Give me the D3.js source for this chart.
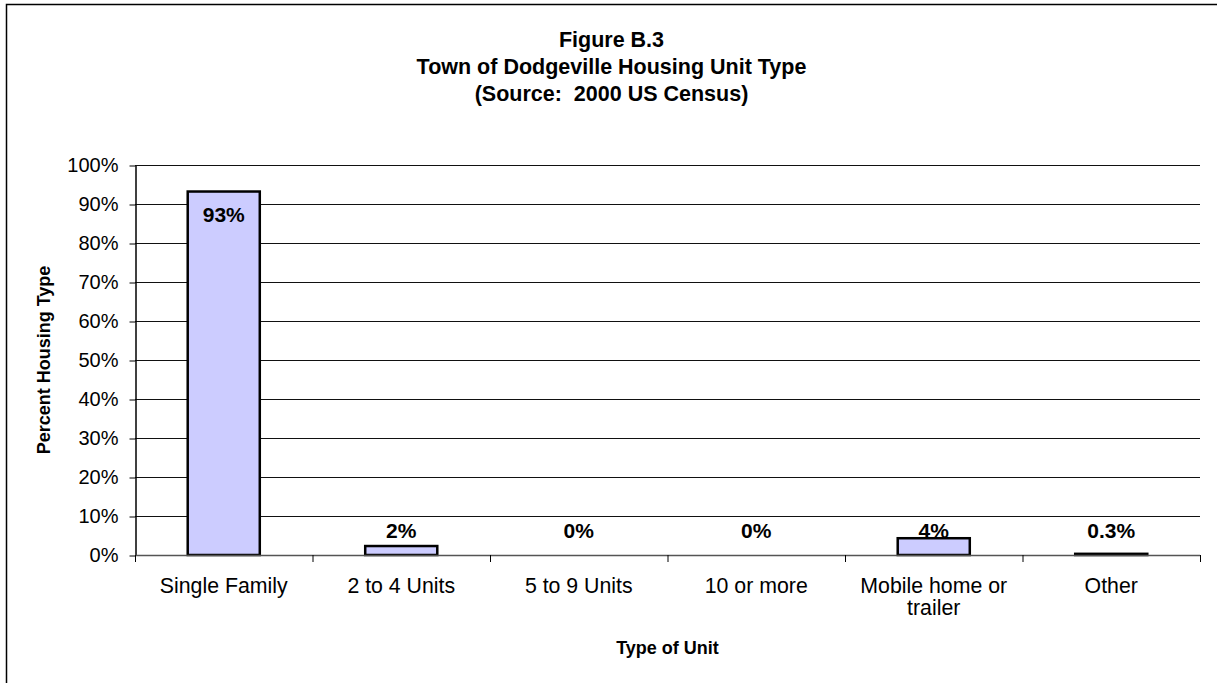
<!DOCTYPE html>
<html>
<head>
<meta charset="utf-8">
<script src="https://cdn.jsdelivr.net/npm/d3@7"></script>
<style>
  body { margin: 0; background: #fff; }
  svg, svg text { font-family: "Liberation Sans", Arial, sans-serif; }
  .title { white-space: pre; }
</style>
</head>
<body>
<svg width="1217" height="683"></svg>
<script>
let width = 1217,
    height = 683;

// chart values
let categories = ["Single Family", "2 to 4 Units", "5 to 9 Units", "10 or more", "Mobile home or trailer", "Other"];
let categoryLines = [["Single Family"], ["2 to 4 Units"], ["5 to 9 Units"], ["10 or more"], ["Mobile home or", "trailer"], ["Other"]];
let values = [93.2, 2.3, 0, 0, 4.3, 0.3];
let valueLabels = ["93%", "2%", "0%", "0%", "4%", "0.3%"];
let yTicks = [0, 10, 20, 30, 40, 50, 60, 70, 80, 90, 100];
let titleLines = ["Figure B.3", "Town of Dodgeville Housing Unit Type", "(Source:  2000 US Census)"];

let margin = { top: 165, right: 17, bottom: 128, left: 135 };

let svg = d3.select('svg')
    .attr('width', width)
    .attr('height', height);

// outer chart border (runs off the right and bottom edges)
svg.append('rect')
    .attr('x', 6.5)
    .attr('y', 4.5)
    .attr('width', width + 20)
    .attr('height', height + 20)
    .attr('fill', 'none')
    .attr('stroke', '#000')
    .attr('stroke-width', 1.5);

let x = d3.scaleBand()
    .domain(categories)
    .range([margin.left, width - margin.right])
    .padding(0);

let y = d3.scaleLinear()
    .domain([0, 100])
    .range([height - margin.bottom, margin.top]);

// titles
let title = svg.append('text')
    .attr('class', 'title')
    .attr('text-anchor', 'middle')
    .attr('font-weight', 'bold')
    .attr('font-size', 21.5);
title.selectAll('tspan')
    .data(titleLines)
    .enter().append('tspan')
    .attr('x', (margin.left + width - margin.right) / 2 - 56)
    .attr('y', (d, i) => 47 + i * 27)
    .text(d => d);

// gridlines
svg.append('g')
    .selectAll('line')
    .data(yTicks)
    .enter().append('line')
    .attr('x1', margin.left)
    .attr('x2', width - margin.right)
    .attr('y1', d => y(d) + 0.5)
    .attr('y2', d => y(d) + 0.5)
    .attr('stroke', '#111')
    .attr('stroke-width', 1);

// y axis
let yAxis = svg.append('g')
    .attr('transform', `translate(${margin.left + 0.5},0.5)`)
    .call(d3.axisLeft(y).tickValues(yTicks).tickFormat(d => d + '%').tickSizeInner(6).tickSizeOuter(0).tickPadding(11));
yAxis.attr('font-family', '"Liberation Sans", Arial, sans-serif');
yAxis.select('.domain').attr('stroke', '#000').attr('stroke-width', 1.5);
yAxis.selectAll('.tick line').attr('stroke', '#000');
yAxis.selectAll('.tick text')
    .attr('font-size', 20)
    .attr('fill', '#000');

// bars
let barW = x.bandwidth() * 0.406;
svg.append('g')
    .selectAll('rect')
    .data(values)
    .enter().append('rect')
    .attr('x', (d, i) => x(categories[i]) + (x.bandwidth() - barW) / 2)
    .attr('y', d => y(d))
    .attr('width', barW)
    .attr('height', d => y(0) - y(d))
    .attr('fill', '#ccccff')
    .attr('stroke', '#000')
    .attr('stroke-width', 2.5);

// x axis line and category ticks
let boundaries = categories.map(c => x(c)).concat([width - margin.right]);
svg.append('line')
    .attr('x1', margin.left)
    .attr('x2', width - margin.right)
    .attr('y1', y(0) + 0.5)
    .attr('y2', y(0) + 0.5)
    .attr('stroke', '#555')
    .attr('stroke-width', 1.5);
svg.append('g')
    .selectAll('line')
    .data(boundaries)
    .enter().append('line')
    .attr('x1', d => d + 0.5)
    .attr('x2', d => d + 0.5)
    .attr('y1', y(0))
    .attr('y2', y(0) + 7)
    .attr('stroke', '#000')
    .attr('stroke-width', 1);

// value labels
svg.append('g')
    .selectAll('text')
    .data(values)
    .enter().append('text')
    .attr('x', (d, i) => x(categories[i]) + x.bandwidth() / 2)
    .attr('y', d => d > 50 ? y(d) + 30 : y(0) - 17)
    .attr('text-anchor', 'middle')
    .attr('font-weight', 'bold')
    .attr('font-size', 21)
    .text((d, i) => valueLabels[i]);

// category labels
let catLabels = svg.append('g')
    .selectAll('text')
    .data(categoryLines)
    .enter().append('text')
    .attr('text-anchor', 'middle')
    .attr('font-size', 21.3);
catLabels.selectAll('tspan')
    .data((d, i) => d.map(t => ({ t: t, i: i })))
    .enter().append('tspan')
    .attr('x', d => x(categories[d.i]) + x.bandwidth() / 2)
    .attr('y', (d, j) => y(0) + 38 + j * 22)
    .text(d => d.t);

// axis titles
svg.append('text')
    .attr('x', (margin.left + width - margin.right) / 2)
    .attr('y', height - 29)
    .attr('text-anchor', 'middle')
    .attr('font-weight', 'bold')
    .attr('font-size', 18)
    .text('Type of Unit');

svg.append('text')
    .attr('transform', `translate(50,${(y(0) + y(100)) / 2}) rotate(-90)`)
    .attr('text-anchor', 'middle')
    .attr('font-weight', 'bold')
    .attr('font-size', 18)
    .text('Percent Housing Type');
</script>
</body>
</html>
